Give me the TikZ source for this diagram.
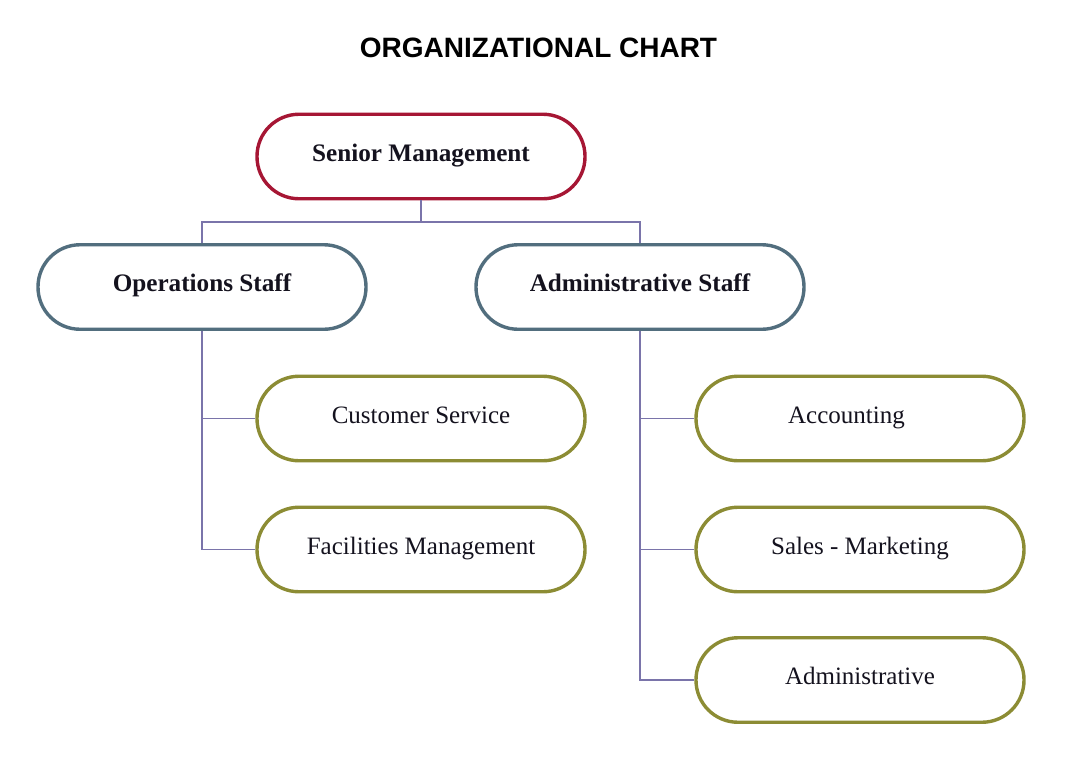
\documentclass[tikz,border=0pt]{standalone}
\usepackage{fontspec}
\setmainfont{Liberation Serif}
\newfontfamily\titlefont{Liberation Sans}
\definecolor{smred}{RGB}{166,22,52}
\definecolor{stblue}{RGB}{82,110,126}
\definecolor{olive}{RGB}{140,140,52}
\definecolor{linkc}{RGB}{122,116,170}
\definecolor{txt}{RGB}{20,18,30}
\begin{document}
\begin{tikzpicture}[x=1pt,y=-1pt,
  pill/.style={draw,line width=3.4pt,fill=white,rounded corners=42pt,
    minimum width=328pt,minimum height=84.5pt,inner sep=0pt,
    text height=14pt,text depth=5pt,font=\fontsize{25}{28}\selectfont,text=txt},
  topbox/.style={pill,draw=smred,font=\fontsize{25.2}{28}\selectfont\bfseries},
  midbox/.style={pill,draw=stblue,font=\fontsize{25.2}{28}\selectfont\bfseries},
  leafbox/.style={pill,draw=olive},
  link/.style={draw=linkc,line width=1.3pt}]
\useasboundingbox (0,0) rectangle (1068,766);
\node[font=\titlefont\fontsize{28}{30}\selectfont\bfseries,anchor=base] (title) at (538.5,57) {ORGANIZATIONAL CHART};
\node[topbox] (sm) at (421,156.5) {Senior Management};
\node[midbox] (ops) at (202,287) {Operations Staff};
\node[midbox] (adm) at (640,287) {Administrative Staff};
\node[leafbox] (cs) at (421,418.5) {Customer Service};
\node[leafbox] (fm) at (421,549.5) {Facilities Management};
\node[leafbox] (acc) at (860,418.5) {Accounting\hspace*{27pt}};
\node[leafbox] (sal) at (860,549.5) {Sales - Marketing};
\node[leafbox] (adv) at (860,680) {Administrative};
\coordinate (j) at (421,222);
\draw[link] (sm.south) -- (j);
\draw[link] (ops.north) |- (j) -| (adm.north);
\draw[link] (ops.south) |- (cs.west);
\draw[link] (ops.south) |- (fm.west);
\draw[link] (adm.south) |- (acc.west);
\draw[link] (adm.south) |- (sal.west);
\draw[link] (adm.south) |- (adv.west);
\end{tikzpicture}
\end{document}
